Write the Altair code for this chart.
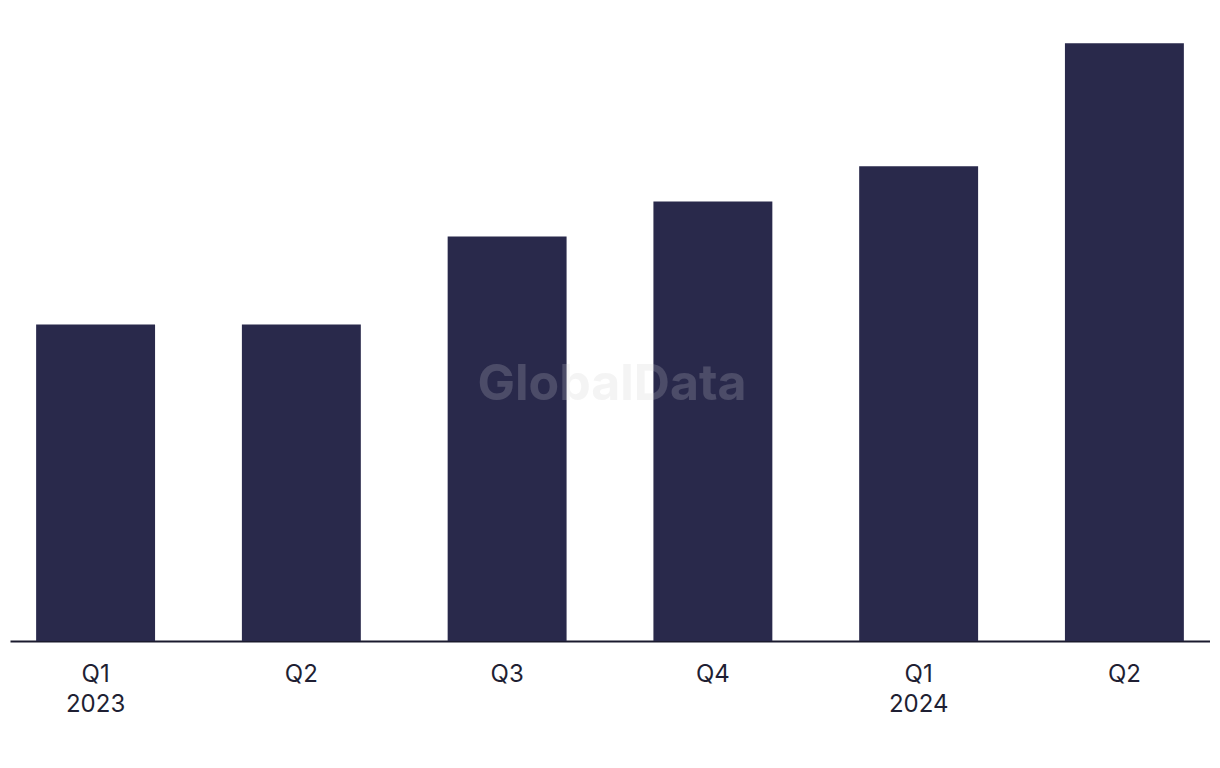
import altair as alt
import pandas as pd

keys = ["Q1 2023", "Q2 2023", "Q3 2023", "Q4 2023", "Q1 2024", "Q2 2024"]
values = [18, 18, 23, 25, 27, 34]
watermark = ["GlobalData"]

df = pd.DataFrame({"period": keys, "value": values})
wm_df = pd.DataFrame({"text": watermark})

FONT = "Inter"

x = alt.X(
    "period:N",
    sort=keys,
    title=None,
    scale=alt.Scale(paddingInner=0.422, paddingOuter=0.127),
    axis=alt.Axis(
        labelAngle=0,
        labelExpr="datum.label == 'Q1 2023' || datum.label == 'Q1 2024' ? split(datum.label, ' ') : split(datum.label, ' ')[0]",
        labelFont=FONT,
        labelFontSize=24,
        labelColor="#1f1f33",
        labelLineHeight=30,
        labelPadding=21,
        ticks=False,
        domainColor="#1a1a2e",
        domainWidth=2,
        grid=False,
    ),
)

y = alt.Y(
    "value:Q",
    title=None,
    scale=alt.Scale(domain=[0, 36], nice=False),
    axis=None,
)

bars = alt.Chart(df).mark_bar(color="#29294b").encode(x=x, y=y)

wm_back = alt.Chart(wm_df).mark_text(
    font=FONT, fontSize=50, fontWeight="bold", color="#f3f3f3"
).encode(text="text:N", x=alt.value(602), y=alt.value(377))

wm_front = alt.Chart(wm_df).mark_text(
    font=FONT, fontSize=50, fontWeight="bold", color="#ffffff", opacity=0.16
).encode(text="text:N", x=alt.value(602), y=alt.value(377))

chart = (
    alt.layer(wm_back, bars, wm_front)
    .properties(width=1200, height=633, padding={"left": 2, "top": 0, "right": 0, "bottom": 0})
    .configure_view(stroke=None)
)

chart.save("out.html", embed_options={"renderer": "svg", "actions": False})
